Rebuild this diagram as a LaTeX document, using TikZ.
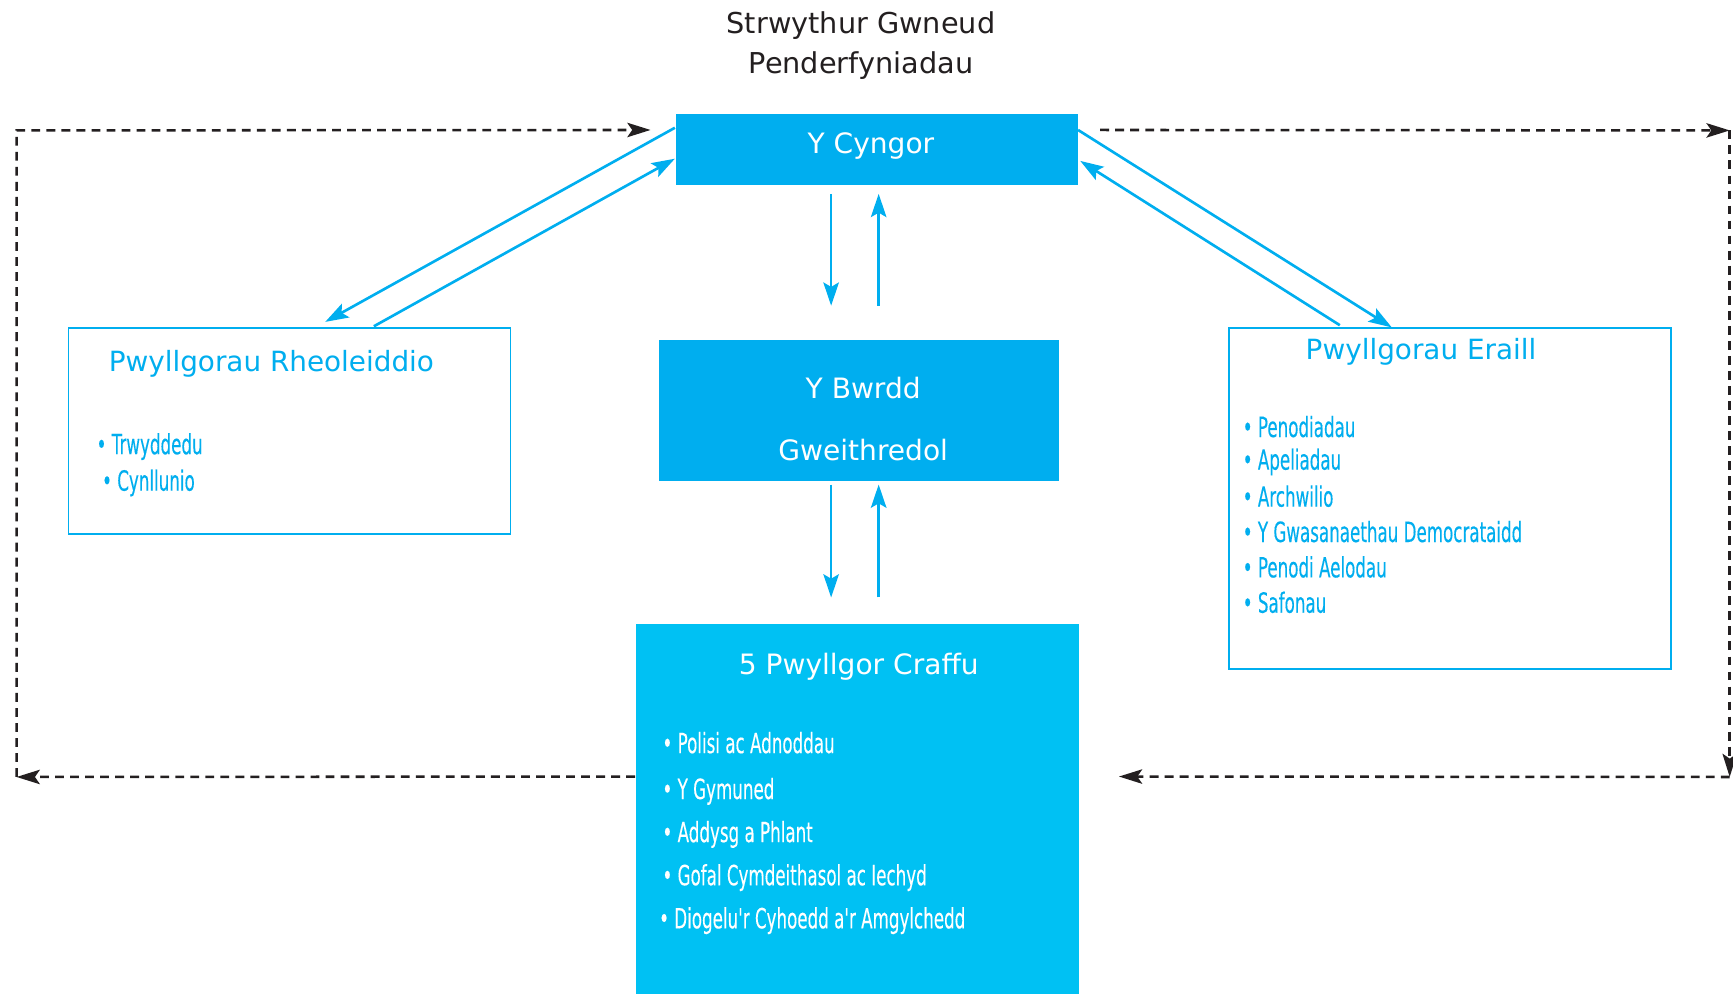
\documentclass[tikz,border=0pt]{standalone}
\usepackage{fontspec}
\setmainfont{DejaVu Sans}
\newfontfamily\narrowfont[FakeStretch=0.6,FakeBold=0.2]{DejaVu Sans}
\usetikzlibrary{arrows.meta,calc}
\definecolor{cyanA}{HTML}{00AEEF}
\definecolor{cyanB}{HTML}{00C1F3}
\definecolor{darktext}{HTML}{231F20}
\begin{document}
\begin{tikzpicture}[x=0.5pt,y=-0.5pt,
  solidbox/.style={fill=cyanA, draw=none, inner sep=0pt},
  outlinebox/.style={draw=cyanA, line width=0.75pt, fill=white, inner sep=0pt},
  boxlabel/.style={text=white, font=\fontsize{12.7}{15}\selectfont, inner sep=0pt},
  headtext/.style={text=cyanA, font=\fontsize{12.6}{15}\selectfont, inner sep=0pt, anchor=west},
  itemtext/.style={font=\narrowfont\fontsize{12.6}{15}\selectfont, inner sep=0pt, anchor=west},
  flow/.style={draw=cyanA, line width=1.2pt, -{Stealth[length=10.5pt,width=7pt,inset=2pt]}},
  feedback/.style={draw=darktext, line width=1.15pt, dash pattern=on 4pt off 2.8pt, -{Stealth[length=10.5pt,width=6.5pt,inset=2.2pt]}},
]
\useasboundingbox (0,0) rectangle (1568,899);

% title
\node[text=darktext, font=\fontsize{13}{18}\selectfont, align=center, inner sep=0pt] (title) at (779,41) {Strwythur Gwneud\\Penderfyniadau};

% boxes
\node[solidbox, minimum width=181.5pt, minimum height=32pt] (cyngor) at (793.5,135) {};
\node[boxlabel] (cyngorlabel) at (788,132) {Y Cyngor};

\node[solidbox, minimum width=181pt, minimum height=63.5pt] (bwrdd) at (777,371.5) {};
\node[boxlabel] (bwrdd1) at (781,351) {Y Bwrdd};
\node[boxlabel] (bwrdd2) at (781,407) {Gweithredol};

\node[solidbox, fill=cyanB, minimum width=200.5pt, minimum height=167pt] (craffu) at (775.5,732) {};
\node[boxlabel] (craffutitle) at (777,603) {5 Pwyllgor Craffu};
\node[itemtext, text=white] (c1) at (599,672) {• Polisi ac Adnoddau};
\node[itemtext, text=white] (c2) at (599,716) {• Y Gymuned};
\node[itemtext, text=white] (c3) at (599,755) {• Addysg a Phlant};
\node[itemtext, text=white] (c4) at (599,794) {• Gofal Cymdeithasol ac Iechyd};
\node[itemtext, text=white] (c5) at (596,833) {• Diogelu'r Cyhoedd a'r Amgylchedd};

\node[outlinebox, minimum width=200pt, minimum height=93pt] (rheol) at (262,390) {};
\node[headtext] (rheoltitle) at (98,329) {Pwyllgorau Rheoleiddio};
\node[itemtext, text=cyanA] (r1) at (87,404) {• Trwyddedu};
\node[itemtext, text=cyanA] (r2) at (92,437) {• Cynllunio};

\node[outlinebox, minimum width=200pt, minimum height=154pt] (eraill) at (1312,451) {};
\node[headtext] (erailltitle) at (1181,318) {Pwyllgorau Eraill};
\node[itemtext, text=cyanA] (e1) at (1124,386) {• Penodiadau};
\node[itemtext, text=cyanA] (e2) at (1124,418) {• Apeliadau};
\node[itemtext, text=cyanA] (e3) at (1124,449) {• Archwilio};
\node[itemtext, text=cyanA] (e4) at (1124,481) {• Y Gwasanaethau Democrataidd};
\node[itemtext, text=cyanA] (e5) at (1124,513) {• Penodi Aelodau};
\node[itemtext, text=cyanA] (e6) at (1124,545) {• Safonau};

% cyan connectors
\draw[flow] ($(cyngor.north west)+(-1,13)$) -- ($(rheol.north west)+(233,-5)$);
\draw[flow] ($(rheol.north west)+(277,-1)$) -- ($(cyngor.north west)+(-1,41)$);
\draw[flow] ($(cyngor.north east)+(0,15)$) -- ($(eraill.north west)+(148,0)$);
\draw[flow] ($(eraill.north west)+(101,-2)$) -- ($(cyngor.north east)+(2,43)$);

\draw[flow] ($(cyngor.south)+(-41.5,8)$) -- ($(bwrdd.north)+(-25,-31)$);
\draw[flow] ($(bwrdd.north)+(18,-31)$) -- ($(cyngor.south)+(1.5,8)$);
\draw[flow] ($(bwrdd.south)+(-25,3)$) -- ($(craffu.north)+(-23.5,-24)$);
\draw[flow] ($(craffu.north)+(19.5,-24)$) -- ($(bwrdd.south)+(18,3)$);

% dashed feedback loops
\coordinate (lb) at (15,703);
\coordinate (lt) at (15,118);
\coordinate (rt) at (1565,118);
\coordinate (rb) at (1565,703);
\draw[feedback] ($(craffu.north west)+(0,138)$) -- (lb);
\draw[feedback] (lb) -- (lt) -- ($(cyngor.north west)+(-23,15)$);
\draw[feedback] ($(cyngor.north east)+(20,15)$) -- (rt);
\draw[feedback] (rt) -- (rb);
\draw[feedback] (rb) -- ($(craffu.north east)+(36,138)$);
\end{tikzpicture}
\end{document}
